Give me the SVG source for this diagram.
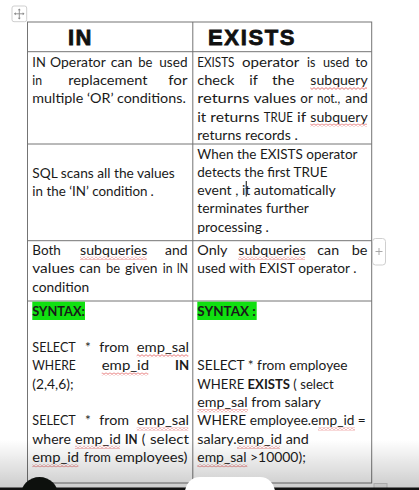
<svg xmlns="http://www.w3.org/2000/svg" width="419" height="490" viewBox="0 0 419 490">
<defs>
<style>
.t{font-family:Lato,"Noto Sans",sans-serif;font-size:13.6px;fill:#1a1a1a}
.b{font-weight:bold}
.h{font-family:"Liberation Sans",Arial,sans-serif;font-size:22px;font-weight:bold;fill:#111;stroke:#111;stroke-width:0.8}
.grid{stroke:#747474;stroke-width:1;fill:none}
.hl{fill:#10e010}
.w{fill:url(#wave)}
</style>
<pattern id="wave" patternUnits="userSpaceOnUse" width="4" height="3">
<path d="M0,2.4 L2,0.6 L4,2.4" fill="none" stroke="#e05050" stroke-width="0.8"/>
</pattern>
<linearGradient id="shade" x1="0" y1="0" x2="0" y2="1">
<stop offset="0" stop-color="#000" stop-opacity="0"/>
<stop offset="1" stop-color="#000" stop-opacity="0.2"/>
</linearGradient>
</defs>
<rect width="419" height="490" fill="#fff"/>

<g id="move-handle">
<rect x="12" y="6" width="14.7" height="15.7" rx="2" fill="#fff" stroke="#cfcfcf"/>
<path d="M19.3,9 V19 M14.5,13.8 H24" stroke="#8a8a8a" stroke-width="0.9" fill="none"/>
<path d="M19.3,8.5 l-1.5,1.8 h3 z M19.3,19.5 l-1.5,-1.8 h3 z M14,13.8 l1.8,-1.5 v3 z M24.5,13.8 l-1.8,-1.5 v3 z" fill="#8a8a8a"/>
</g>

<g id="connectors">
<rect class="grid" x="27.5" y="22" width="344.2" height="461"/>
<line class="grid" x1="192.8" y1="22" x2="192.8" y2="483" stroke-width="1.6" stroke="#8a8a8a"/>
<line class="grid" x1="27.5" y1="51.7" x2="371.7" y2="51.7"/>
<line class="grid" x1="27.5" y1="144" x2="371.7" y2="144"/>
<line class="grid" x1="27.5" y1="240.7" x2="371.7" y2="240.7"/>
<line class="grid" x1="27.5" y1="301" x2="371.7" y2="301"/>
</g>

<g id="header">
<text class="h" x="68" y="45" textLength="23.5">IN</text>
<text class="h" x="208" y="45" textLength="86.5">EXISTS</text>
</g>

<g id="row1-in">
<text class="t" x="32.3" y="66.5" textLength="13.5" lengthAdjust="spacingAndGlyphs">IN</text>
<text class="t" x="50" y="66.5" textLength="55.8" lengthAdjust="spacingAndGlyphs">Operator</text>
<text class="t" x="110.7" y="66.5" textLength="21.8" lengthAdjust="spacingAndGlyphs">can</text>
<text class="t" x="138.3" y="66.5" textLength="14.2" lengthAdjust="spacingAndGlyphs">be</text>
<text class="t" x="159.3" y="66.5" textLength="28.2" lengthAdjust="spacingAndGlyphs">used</text>
<text class="t" x="32.3" y="84.8" textLength="9.8" lengthAdjust="spacingAndGlyphs">in</text>
<text class="t" x="68.3" y="84.8" textLength="79.2" lengthAdjust="spacingAndGlyphs">replacement</text>
<text class="t" x="168.3" y="84.8" textLength="19.2" lengthAdjust="spacingAndGlyphs">for</text>
<text class="t" x="32.3" y="103.1" textLength="153.5" lengthAdjust="spacingAndGlyphs">multiple ‘OR’ conditions.</text>
</g>

<g id="row1-exists">
<text class="t" x="197.2" y="66.8" textLength="37.3" lengthAdjust="spacingAndGlyphs">EXISTS</text>
<text class="t" x="242" y="66.8" textLength="57.3" lengthAdjust="spacingAndGlyphs">operator</text>
<text class="t" x="307" y="66.8" textLength="8.4" lengthAdjust="spacingAndGlyphs">is</text>
<text class="t" x="323" y="66.8" textLength="26.4" lengthAdjust="spacingAndGlyphs">used</text>
<text class="t" x="355.3" y="66.8" textLength="12.4" lengthAdjust="spacingAndGlyphs">to</text>
<text class="t" x="197.2" y="85.1" textLength="37.3" lengthAdjust="spacingAndGlyphs">check</text>
<text class="t" x="249.3" y="85.1" textLength="8.5" lengthAdjust="spacingAndGlyphs">if</text>
<text class="t" x="272" y="85.1" textLength="22.5" lengthAdjust="spacingAndGlyphs">the</text>
<text class="t" x="310.3" y="85.1" textLength="57.4" lengthAdjust="spacingAndGlyphs">subquery</text>
<text class="t" x="197.2" y="103.4" textLength="52.3" lengthAdjust="spacingAndGlyphs">returns</text>
<text class="t" x="253.7" y="103.4" textLength="42.4" lengthAdjust="spacingAndGlyphs">values</text>
<text class="t" x="300.3" y="103.4" textLength="12.5" lengthAdjust="spacingAndGlyphs">or</text>
<text class="t" x="317" y="103.4" textLength="23.1" lengthAdjust="spacingAndGlyphs">not.,</text>
<text class="t" x="345.3" y="103.4" textLength="22.4" lengthAdjust="spacingAndGlyphs">and</text>
<text class="t" x="197.2" y="121.7" textLength="9" lengthAdjust="spacingAndGlyphs">it</text>
<text class="t" x="210.3" y="121.7" textLength="49.2" lengthAdjust="spacingAndGlyphs">returns</text>
<text class="t" x="263.7" y="121.7" textLength="29.1" lengthAdjust="spacingAndGlyphs">TRUE</text>
<text class="t" x="297" y="121.7" textLength="9.1" lengthAdjust="spacingAndGlyphs">if</text>
<text class="t" x="310.3" y="121.7" textLength="57.4" lengthAdjust="spacingAndGlyphs">subquery</text>
<text class="t" x="197.2" y="140" textLength="100.6" lengthAdjust="spacingAndGlyphs">returns records .</text>
<rect class="w" x="310.3" y="87" width="56.7" height="3"/>
<rect class="w" x="310.3" y="123.6" width="56.7" height="3"/>
</g>

<g id="row2-in">
<text class="t" x="32.3" y="177.7" textLength="142.5" lengthAdjust="spacingAndGlyphs">SQL scans all the values</text>
<text class="t" x="32.3" y="196" textLength="115.2" lengthAdjust="spacingAndGlyphs">in the ‘IN’ condition</text>
<text class="t" x="150.5" y="196">.</text>
</g>

<g id="row2-exists">
<text class="t" x="197.3" y="158.5" textLength="160.2" lengthAdjust="spacingAndGlyphs">When the EXISTS operator</text>
<text class="t" x="197.3" y="176.8" textLength="130.2" lengthAdjust="spacingAndGlyphs">detects the first TRUE</text>
<text class="t" x="197.3" y="195.1" textLength="138.5" lengthAdjust="spacingAndGlyphs">event , it automatically</text>
<text class="t" x="197.3" y="213.4" textLength="111.5" lengthAdjust="spacingAndGlyphs">terminates further</text>
<text class="t" x="197.3" y="231.7" textLength="71.5" lengthAdjust="spacingAndGlyphs">processing .</text>
<line x1="246.3" y1="181" x2="246.3" y2="196.5" stroke="#333" stroke-width="1.2"/>
</g>

<g id="row3-in">
<text class="t" x="32.3" y="255" textLength="28.5" lengthAdjust="spacingAndGlyphs">Both</text>
<text class="t" x="80" y="255" textLength="67.5" lengthAdjust="spacingAndGlyphs">subqueries</text>
<text class="t" x="165" y="255" textLength="22.5" lengthAdjust="spacingAndGlyphs">and</text>
<text class="t" x="32.3" y="273.3" textLength="42.5" lengthAdjust="spacingAndGlyphs">values</text>
<text class="t" x="79.3" y="273.3" textLength="21.5" lengthAdjust="spacingAndGlyphs">can</text>
<text class="t" x="106" y="273.3" textLength="14.1" lengthAdjust="spacingAndGlyphs">be</text>
<text class="t" x="125" y="273.3" textLength="32.5" lengthAdjust="spacingAndGlyphs">given</text>
<text class="t" x="162.7" y="273.3" textLength="9.8" lengthAdjust="spacingAndGlyphs">in</text>
<text class="t" x="176.7" y="273.3" textLength="11.4" lengthAdjust="spacingAndGlyphs">IN</text>
<text class="t" x="32.3" y="291.6" textLength="56.8" lengthAdjust="spacingAndGlyphs">condition</text>
<rect class="w" x="80" y="256.8" width="66.7" height="3"/>
</g>

<g id="row3-exists">
<text class="t" x="197.3" y="255" textLength="30.2" lengthAdjust="spacingAndGlyphs">Only</text>
<text class="t" x="238.3" y="255" textLength="67.5" lengthAdjust="spacingAndGlyphs">subqueries</text>
<text class="t" x="317.3" y="255" textLength="21.8" lengthAdjust="spacingAndGlyphs">can</text>
<text class="t" x="351.7" y="255" textLength="15.8" lengthAdjust="spacingAndGlyphs">be</text>
<text class="t" x="197.3" y="273.3" textLength="159.2" lengthAdjust="spacingAndGlyphs">used with EXIST operator .</text>
<rect class="w" x="238.3" y="256.8" width="66.7" height="3"/>
</g>

<g id="row4-in">
<rect class="hl" x="32.3" y="301.7" width="52.7" height="18.3"/>
<text class="t b" x="32.3" y="316" textLength="52.5" lengthAdjust="spacingAndGlyphs">SYNTAX:</text>
<text class="t" x="32.3" y="352" textLength="43.5" lengthAdjust="spacingAndGlyphs">SELECT</text>
<text class="t" x="85" y="352">*</text>
<text class="t" x="99.3" y="352" textLength="29.8" lengthAdjust="spacingAndGlyphs">from</text>
<text class="t" x="136.7" y="352" textLength="52.4" lengthAdjust="spacingAndGlyphs">emp_sal</text>
<text class="t" x="32.3" y="370.3" textLength="43.5" lengthAdjust="spacingAndGlyphs">WHERE</text>
<text class="t" x="101.7" y="370.3" textLength="47.4" lengthAdjust="spacingAndGlyphs">emp_id</text>
<text class="t b" x="175" y="370.3" textLength="14.1" lengthAdjust="spacingAndGlyphs">IN</text>
<text class="t" x="32.3" y="388.6" textLength="41.2" lengthAdjust="spacingAndGlyphs">(2,4,6);</text>
<text class="t" x="32.3" y="425.3" textLength="43.5" lengthAdjust="spacingAndGlyphs">SELECT</text>
<text class="t" x="85" y="425.3">*</text>
<text class="t" x="99.3" y="425.3" textLength="29.8" lengthAdjust="spacingAndGlyphs">from</text>
<text class="t" x="136.7" y="425.3" textLength="52.4" lengthAdjust="spacingAndGlyphs">emp_sal</text>
<text class="t" x="32.3" y="443.6" textLength="38.5" lengthAdjust="spacingAndGlyphs">where</text>
<text class="t" x="75" y="443.6" textLength="45.8" lengthAdjust="spacingAndGlyphs">emp_id</text>
<text class="t b" x="125" y="443.6" textLength="12.5" lengthAdjust="spacingAndGlyphs">IN</text>
<text class="t" x="141.7" y="443.6">(</text>
<text class="t" x="150" y="443.6" textLength="39.1" lengthAdjust="spacingAndGlyphs">select</text>
<text class="t" x="32.3" y="462" textLength="46.8" lengthAdjust="spacingAndGlyphs">emp_id</text>
<text class="t" x="84" y="462" textLength="26.8" lengthAdjust="spacingAndGlyphs">from</text>
<text class="t" x="115" y="462" textLength="72.5" lengthAdjust="spacingAndGlyphs">employees)</text>
<rect class="w" x="136.7" y="354.2" width="51.6" height="3"/>
<rect class="w" x="101.7" y="372.5" width="46.6" height="3"/>
<rect class="w" x="136.7" y="427.5" width="51.6" height="3"/>
<rect class="w" x="75" y="445.8" width="45" height="3"/>
<rect class="w" x="32.3" y="464.2" width="46" height="3"/>
</g>

<g id="row4-exists">
<rect class="hl" x="197.3" y="301.7" width="59.4" height="18.3"/>
<text class="t b" x="197.3" y="316" textLength="58.5" lengthAdjust="spacingAndGlyphs">SYNTAX :</text>
<text class="t" x="197.3" y="370.3" textLength="150.2" lengthAdjust="spacingAndGlyphs">SELECT * from employee</text>
<text class="t" x="197.3" y="388.6" textLength="136.5" lengthAdjust="spacingAndGlyphs">WHERE <tspan class="b">EXISTS</tspan> ( select</text>
<text class="t" x="197.3" y="407" textLength="123.5" lengthAdjust="spacingAndGlyphs">emp_sal from salary</text>
<text class="t" x="197.3" y="425.3" textLength="168.5" lengthAdjust="spacingAndGlyphs">WHERE employee.emp_id =</text>
<text class="t" x="197.3" y="443.6" textLength="111.5" lengthAdjust="spacingAndGlyphs">salary.emp_id and</text>
<text class="t" x="197.3" y="462" textLength="108.5" lengthAdjust="spacingAndGlyphs">emp_sal &gt;10000);</text>
<rect class="w" x="197.3" y="409.2" width="50.7" height="3"/>
<rect class="w" x="318" y="427.5" width="37" height="3"/>
<rect class="w" x="237" y="445.8" width="43" height="3"/>
<rect class="w" x="197.3" y="464.2" width="50" height="3"/>
</g>

<g id="add-handle">
<rect x="372.5" y="238.5" width="13" height="26.5" rx="3" fill="#fff" stroke="#cfcfcf"/>
<path d="M379,248 v7 M375.5,251.5 h7" stroke="#a0a0a0" stroke-width="0.9"/>
</g>
<g id="resize-handle">
<rect x="374" y="483.5" width="13" height="6" fill="#f2f2f2" stroke="#cfcfcf"/>
</g>

<g id="overlay">
<rect x="0" y="440" width="419" height="48" fill="url(#shade)"/>
<rect x="0" y="487.5" width="419" height="2.5" fill="#111"/>
<circle cx="39.5" cy="496" r="19" fill="#0d100d"/>
<rect x="185" y="477" width="90" height="30" rx="15" fill="#fff"/>
</g>
</svg>
